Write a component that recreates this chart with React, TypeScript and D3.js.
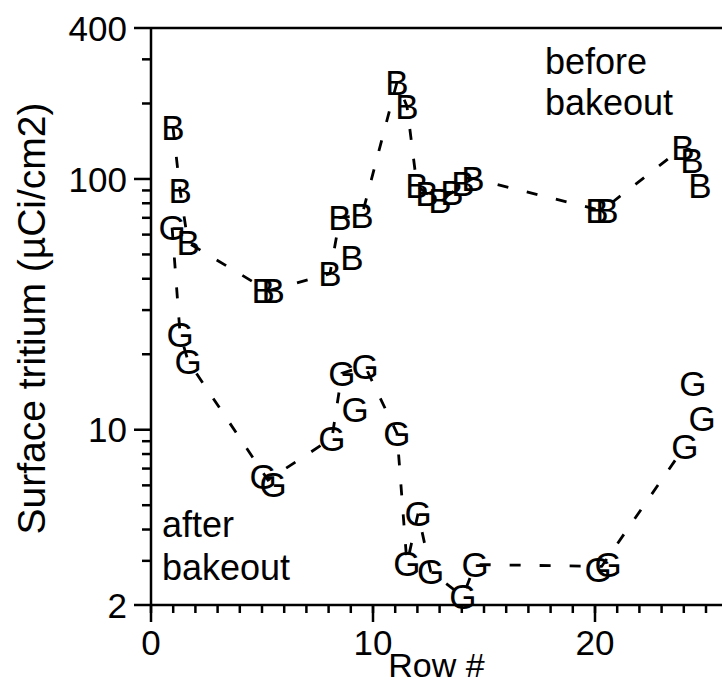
import React from "react";
import * as d3 from "d3";

// "B" = before bakeout, "G" = after bakeout
const bRows = [0.99, 1.31, 1.67, 5.05, 5.5, 8.06, 8.51, 9.05, 9.5, 11.08, 11.53, 11.98, 12.43, 13.02, 13.56, 14.05, 14.5, 20.09, 20.54, 23.96, 24.37, 24.73];
const bValues = [161, 90, 55.7, 35.8, 35.8, 41.9, 70.2, 48.5, 71.5, 243, 195, 94, 87.5, 82, 88.3, 96, 100.5, 74.8, 74.8, 133.7, 118.6, 94];

const gRows = [0.95, 1.31, 1.67, 5.05, 5.5, 8.15, 8.6, 9.19, 9.64, 11.08, 12.03, 11.53, 12.6, 14.05, 14.6, 20.14, 20.59, 24.41, 24.82, 24.05];
const gValues = [64, 24.1, 18.8, 6.51, 6.05, 9.25, 16.8, 12.1, 17.9, 9.69, 4.63, 2.92, 2.72, 2.16, 2.9, 2.77, 2.9, 15.3, 11.1, 8.59];

// dashed trend lines
const bLineRows = [0.99, 1.31, 1.67, 5.27, 8.06, 8.51, 9.5, 11.08, 11.53, 11.98, 12.43, 13.02, 13.56, 14.05, 14.5, 20.3, 23.96];
const bLineValues = [161, 90, 55.7, 35.8, 41.9, 70.2, 71.5, 243, 195, 94, 87.5, 82, 88.3, 96, 100.5, 74.8, 133.7];
const gLineRows = [0.95, 1.31, 1.67, 5.27, 8.15, 8.6, 9.64, 11.08, 11.53, 12.03, 12.6, 14.05, 14.6, 20.3, 24.05];
const gLineValues = [64, 24.1, 18.8, 6.3, 9.25, 16.8, 17.9, 9.69, 2.92, 4.63, 2.72, 2.16, 2.9, 2.85, 8.59];

const yMajor = [2, 10, 100, 400];
const yMinor = [3, 4, 5, 6, 7, 8, 9, 20, 30, 40, 50, 60, 70, 80, 90, 200, 300];
const xMajor = [0, 10, 20];
const xMinor = d3.range(0, 26);

const W = 722;
const H = 683;
const left = 151;
const top = 28;
const bottom = 605;
const font = "'Liberation Sans', Arial, sans-serif";

export default function App() {
  const x = d3.scaleLinear().domain([0, 10]).range([left, left + 222]);
  const y = d3.scaleLog().domain([2, 400]).range([bottom, top]);

  const line = d3
    .line<[number, number]>()
    .x((d) => x(d[0]))
    .y((d) => y(d[1]));

  const bLine = bLineRows.map((r, i) => [r, bLineValues[i]] as [number, number]);
  const gLine = gLineRows.map((r, i) => [r, gLineValues[i]] as [number, number]);

  return (
    <svg width={W} height={H} style={{ position: "absolute", left: 0, top: 0 }} fontFamily={font}>
      <rect width={W} height={H} fill="#fff" />
      {/* frame */}
      <line x1={left} x2={W} y1={top} y2={top} stroke="#000" strokeWidth={2.5} />
      <line x1={left} x2={left} y1={top} y2={bottom} stroke="#000" strokeWidth={2.5} />
      <line x1={left} x2={W} y1={bottom} y2={bottom} stroke="#000" strokeWidth={2.5} />
      {/* y ticks */}
      {yMajor.map((v) => (
        <g key={"ym" + v}>
          <line x1={left - 17} x2={left} y1={y(v)} y2={y(v)} stroke="#000" strokeWidth={2.5} />
          <text x={left - 24} y={y(v)} dy="0.36em" textAnchor="end" fontSize={35}>
            {v}
          </text>
        </g>
      ))}
      {yMinor.map((v) => (
        <line key={"yn" + v} x1={left - 9} x2={left} y1={y(v)} y2={y(v)} stroke="#000" strokeWidth={2.5} />
      ))}
      {/* x ticks */}
      {xMinor.map((v) => (
        <line key={"xn" + v} x1={x(v)} x2={x(v)} y1={bottom} y2={bottom + 8} stroke="#000" strokeWidth={2.5} />
      ))}
      {xMajor.map((v) => (
        <g key={"xm" + v}>
          <line x1={x(v)} x2={x(v)} y1={bottom} y2={bottom + 17} stroke="#000" strokeWidth={2.5} />
          <text x={x(v)} y={bottom + 50} textAnchor="middle" fontSize={35}>
            {v}
          </text>
        </g>
      ))}
      <text x={(left + W) / 2} y={677} textAnchor="middle" fontSize={34}>
        Row #
      </text>
      <text
        transform={`translate(45,${(top + bottom) / 2 + 2}) rotate(-90)`}
        textAnchor="middle"
        fontSize={39}
      >
        Surface tritium (µCi/cm2)
      </text>
      {/* dashed lines */}
      <path d={line(bLine) ?? ""} fill="none" stroke="#000" strokeWidth={2.8} strokeDasharray="11 19" />
      <path d={line(gLine) ?? ""} fill="none" stroke="#000" strokeWidth={2.8} strokeDasharray="11 19" />
      {/* letter markers */}
      {bRows.map((r, i) => (
        <text key={"b" + i} x={x(r)} y={y(bValues[i])} dy="0.36em" textAnchor="middle" fontSize={35}>
          B
        </text>
      ))}
      {gRows.map((r, i) => (
        <text key={"g" + i} x={x(r)} y={y(gValues[i])} dy="0.36em" textAnchor="middle" fontSize={35}>
          G
        </text>
      ))}
      {/* annotations */}
      <text x={545} y={74} fontSize={36}>before</text>
      <text x={545} y={115} fontSize={36}>bakeout</text>
      <text x={162} y={537} fontSize={36}>after</text>
      <text x={162} y={580} fontSize={36}>bakeout</text>
    </svg>
  );
}
